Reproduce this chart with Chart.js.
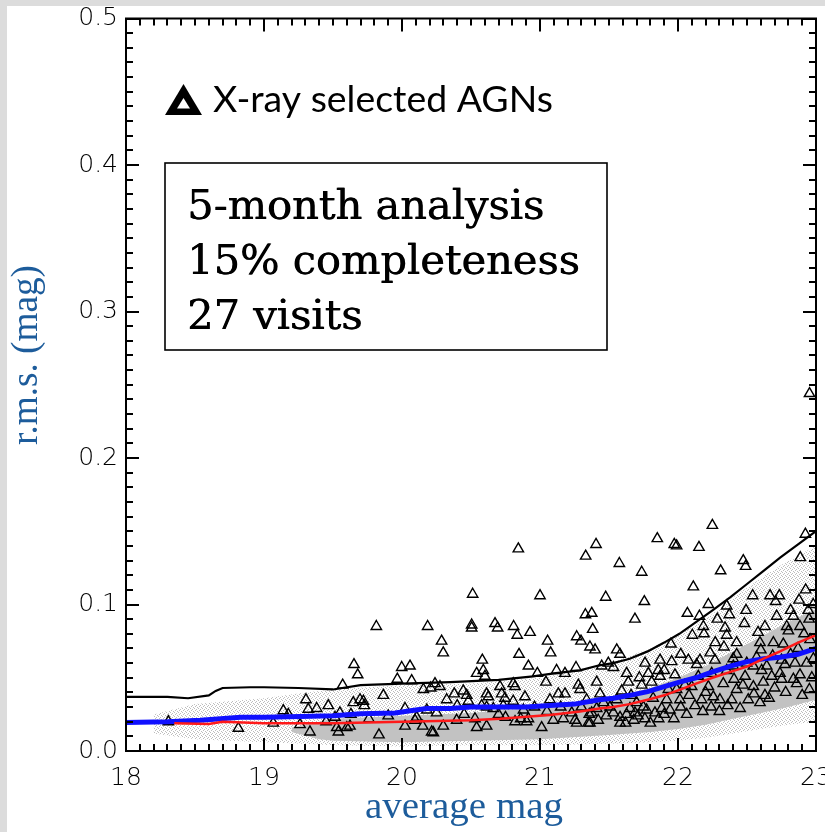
<!DOCTYPE html>
<html><head><meta charset="utf-8">
<script src="https://cdn.jsdelivr.net/npm/chart.js@4/dist/chart.umd.min.js"></script>
<style>
html,body{margin:0;padding:0;background:#dcdcdc;overflow:hidden;width:825px;height:832px;}
#wrap{position:absolute;left:7px;top:6px;width:843px;height:826px;background:#fff;}
canvas{display:block;}
</style></head><body><div id="wrap"><canvas id="c" width="843" height="826"></canvas></div>
<script>
// ---- tick labels ----
const xTickLabels = ['18','19','20','21','22','23'];
const yTickLabels = ['0.0','0.1','0.2','0.3','0.4','0.5'];
const xMin = 18, xMax = 23, yMin = 0, yMax = 0.5;
const xMinorStep = 0.1, yMinorStep = 0.01;

// ---- black (upper envelope) line ----
const blackX = [18.0,18.3,18.45,18.6,18.65,18.7,18.9,19.0,19.25,19.5,19.7,20.0,20.35,20.7,20.95,21.1,21.29,21.43,21.53,21.65,21.78,21.9,22.01,22.13,22.25,22.38,22.5,22.62,22.74,22.87,23.0];
const blackY = [0.037,0.037,0.036,0.038,0.041,0.043,0.0435,0.0435,0.043,0.042,0.045,0.046,0.047,0.0485,0.051,0.053,0.055,0.0585,0.060,0.063,0.068,0.074,0.080,0.088,0.096,0.105,0.114,0.123,0.132,0.141,0.150];

// ---- blue line ----
const blueX = [18.0,18.3,18.54,18.83,19.0,19.26,19.5,19.7,19.95,20.1,20.18,20.35,20.5,20.71,20.9,21.07,21.25,21.43,21.53,21.65,21.78,21.9,22.01,22.13,22.25,22.38,22.5,22.62,22.74,22.87,23.0];
const blueY = [0.0195,0.020,0.021,0.023,0.023,0.0235,0.024,0.0255,0.026,0.028,0.029,0.029,0.030,0.030,0.030,0.031,0.032,0.035,0.036,0.038,0.0405,0.044,0.047,0.050,0.054,0.058,0.061,0.063,0.064,0.066,0.070];

// ---- red line ----
const redX = [18.35,18.6,18.7,19.0,19.5,20.0,20.5,20.71,21.07,21.29,21.43,21.53,21.65,21.78,21.9,22.01,22.13,22.25,22.38,22.5,22.62,22.74,22.87,23.0];
const redY = [0.019,0.0185,0.020,0.019,0.019,0.020,0.021,0.022,0.0245,0.027,0.029,0.030,0.032,0.035,0.038,0.0417,0.046,0.050,0.054,0.0576,0.063,0.068,0.074,0.079];

// ---- grey point cloud: sparse envelope and dense core ----
const cloudX   = [18.2,18.5,19.0,19.3,19.5,20.0,20.5,21.0,21.5,21.8,22.0,22.2,22.4,22.6,22.8,23.0];
const cloudLo  = [0.012,0.008,0.006,0.005,0.004,0.003,0.004,0.004,0.005,0.006,0.007,0.009,0.012,0.015,0.018,0.020];
const cloudHi  = [0.025,0.032,0.036,0.040,0.042,0.045,0.046,0.050,0.060,0.070,0.080,0.090,0.105,0.118,0.130,0.140];
const coreX    = [19.2,19.4,19.5,20.0,20.5,21.0,21.5,21.8,22.0,22.2,22.4,22.6,22.8,23.0];
const coreLo   = [0.013,0.008,0.007,0.006,0.007,0.008,0.011,0.013,0.015,0.018,0.022,0.026,0.030,0.035];
const coreHi   = [0.016,0.020,0.022,0.024,0.026,0.030,0.036,0.043,0.050,0.058,0.068,0.078,0.088,0.097];

// ---- X-ray selected AGNs (triangles) ----
const agnX = [20.843,21.406,21.331,20.512,21.0,19.814,20.186,20.505,20.505,20.674,20.693,20.809,20.835,20.928,21.329,21.375,21.382,21.266,21.297,21.362,21.399,20.287,20.299,21.055,21.077,20.848,20.916,20.582,20.589,20.541,20.601,19.652,19.679,19.998,20.058,19.966,20.07,19.57,20.981,21.12,21.181,21.261,21.043,20.806,20.819,20.71,20.155,20.208,20.239,20.275,20.379,20.444,20.469,19.865,20.613,20.626,20.722,20.746,20.891,21.133,21.181,21.278,21.29,21.411,19.304,19.466,19.647,19.696,19.72,19.727,20.022,20.094,20.15,20.215,20.227,20.022,19.833,19.527,19.539,19.623,19.333,20.299,20.396,20.541,20.613,20.529,20.819,20.903,20.916,21.012,21.096,21.169,21.254,21.266,21.362,21.357,20.577,20.613,20.662,20.734,20.806,20.481,20.251,20.106,21.411,20.324,21.072,
22.249,21.85,21.973,21.99,22.152,21.575,21.737,22.473,22.49,22.309,22.886,22.923,22.111,21.476,21.756,21.688,22.068,22.155,22.22,22.285,22.353,22.372,22.493,22.541,22.667,22.734,22.707,22.877,22.925,22.816,22.836,22.944,21.556,21.58,21.949,22.104,22.184,22.188,22.341,22.353,22.333,22.425,22.481,22.63,22.691,22.715,22.763,22.788,22.884,22.913,22.957,22.981,22.952,22.884,22.932,22.848,22.816,22.775,22.751,22.686,22.643,22.679,22.594,22.57,22.546,22.606,22.618,22.63,22.546,22.486,22.498,22.425,22.401,22.406,22.425,22.353,22.328,22.304,22.256,22.22,22.244,22.268,22.233,22.159,22.135,22.075,22.147,22.099,22.171,22.123,22.063,22.014,21.99,21.978,21.954,21.87,21.857,21.87,21.809,21.761,21.785,21.737,21.918,21.942,21.882,21.833,21.773,21.749,21.688,21.652,21.628,21.58,21.532,21.507,21.556,21.592,21.64,21.628,21.495,21.447,21.532,21.435,21.338,21.374,21.422,21.35,21.58,22.389,22.509,22.594,22.739,22.836,
18.307,18.814,19.067,19.14,19.261,19.321,19.382,19.514,19.176,19.6,22.953,20.75,20.86,19.55,19.63,
21.62,21.68,21.71,21.76,21.8,21.86,21.9,21.97,22.02,22.08,22.18,22.24,22.3,22.36,22.45,22.55,22.7,22.78,22.86,22.9,22.97,22.66,22.47,22.2,22.05,21.93,21.82,21.7,21.66,21.72,21.48,21.46,21.3,21.23,21.15,21.05,20.96,20.88,20.7,20.45,20.4,20.18,19.9,19.76,19.45,22.6,22.75,22.87,22.95,22.98,22.8,22.58,22.4,22.27,22.02,21.9];
const agnY = [0.138,0.141,0.133,0.107,0.106,0.085,0.085,0.086,0.084,0.087,0.084,0.085,0.079,0.081,0.093,0.094,0.083,0.078,0.075,0.071,0.069,0.075,0.067,0.075,0.067,0.066,0.058,0.062,0.055,0.053,0.051,0.059,0.052,0.057,0.058,0.049,0.048,0.045,0.053,0.055,0.053,0.057,0.047,0.046,0.044,0.044,0.042,0.043,0.046,0.044,0.039,0.041,0.038,0.038,0.039,0.037,0.039,0.036,0.037,0.039,0.039,0.045,0.042,0.047,0.035,0.031,0.033,0.035,0.034,0.031,0.029,0.021,0.017,0.013,0.0125,0.017,0.011,0.016,0.013,0.017,0.013,0.017,0.021,0.016,0.017,0.022,0.020,0.020,0.022,0.016,0.021,0.022,0.021,0.019,0.019,0.025,0.031,0.030,0.029,0.031,0.034,0.034,0.026,0.023,0.029,0.035,0.035,
0.154,0.145,0.141,0.140,0.139,0.128,0.122,0.130,0.126,0.123,0.132,0.148,0.112,0.105,0.102,0.090,0.094,0.092,0.100,0.090,0.099,0.093,0.096,0.106,0.106,0.106,0.102,0.103,0.110,0.096,0.092,0.096,0.069,0.066,0.073,0.079,0.085,0.080,0.084,0.079,0.071,0.074,0.087,0.085,0.074,0.092,0.073,0.085,0.085,0.080,0.076,0.063,0.042,0.052,0.060,0.060,0.066,0.059,0.049,0.065,0.058,0.051,0.074,0.064,0.058,0.055,0.047,0.038,0.044,0.051,0.060,0.066,0.058,0.049,0.042,0.055,0.046,0.035,0.037,0.044,0.053,0.062,0.067,0.062,0.059,0.062,0.051,0.044,0.035,0.031,0.025,0.035,0.042,0.052,0.061,0.062,0.055,0.051,0.047,0.060,0.053,0.045,0.035,0.028,0.029,0.026,0.028,0.030,0.026,0.029,0.025,0.023,0.026,0.030,0.035,0.041,0.047,0.053,0.060,0.058,0.057,0.039,0.035,0.026,0.021,0.019,0.019,0.035,0.035,0.033,0.053,0.049,
0.020,0.0155,0.019,0.0275,0.018,0.0285,0.029,0.023,0.025,0.016,0.244,0.023,0.022,0.026,0.025,
0.019,0.021,0.024,0.022,0.019,0.022,0.025,0.022,0.030,0.038,0.027,0.030,0.027,0.031,0.029,0.039,0.043,0.040,0.046,0.038,0.050,0.036,0.045,0.040,0.045,0.042,0.036,0.033,0.038,0.050,0.024,0.033,0.030,0.026,0.030,0.027,0.030,0.028,0.025,0.025,0.031,0.028,0.024,0.022,0.020,0.069,0.062,0.070,0.090,0.100,0.082,0.081,0.063,0.074,0.066,0.055];

// ---- annotation texts ----
const legendText = 'X-ray selected AGNs';
const boxLines = ['5-month analysis','15% completeness','27 visits'];
const xTitle = 'average mag';
const yTitle = 'r.m.s. (mag)';

const pts = (xs, ys) => xs.map((v, i) => ({x: v, y: ys[i]}));

const measureCtx = document.createElement('canvas').getContext('2d');
function fitSize(text, weight, family, width) {
  measureCtx.font = weight + ' 100px ' + family;
  return 100 * width / measureCtx.measureText(text).width;
}

// speckle texture for the sparse part of the grey cloud
function speckle() {
  const c = document.createElement('canvas'); c.width = 4; c.height = 4;
  const g = c.getContext('2d');
  g.fillStyle = '#ffffff'; g.fillRect(0, 0, 4, 4);
  g.fillStyle = '#bdbdbd';
  g.fillRect(0, 0, 1, 1); g.fillRect(2, 1, 1, 1); g.fillRect(1, 3, 1, 1); g.fillRect(3, 2, 1, 1);
  return measureCtx.createPattern(c, 'repeat');
}

// inward ticks on all four sides + frame
const axisBox = {
  id: 'axisBox',
  afterDraw(chart) {
    const ctx = chart.ctx;
    const a = chart.chartArea;
    const sx = chart.scales.x, sy = chart.scales.y;
    ctx.save();
    ctx.fillStyle = '#000000';
    const nx = Math.round((xMax - xMin) / xMinorStep);
    for (let i = 0; i <= nx; i++) {
      const px = Math.round(sx.getPixelForValue(xMin + i * xMinorStep));
      const L = (i % 10 === 0) ? 13 : 7;
      ctx.fillRect(px - 1, a.bottom - L, 2, L);
      ctx.fillRect(px - 1, a.top, 2, L);
    }
    const ny = Math.round((yMax - yMin) / yMinorStep);
    for (let i = 0; i <= ny; i++) {
      const py = Math.round(sy.getPixelForValue(yMin + i * yMinorStep));
      const L = (i % 10 === 0) ? 13 : 7;
      ctx.fillRect(a.left, py - 1, L, 2);
      ctx.fillRect(a.right - L, py - 1, L, 2);
    }
    ctx.strokeStyle = '#000000';
    ctx.lineWidth = 2;
    ctx.strokeRect(a.left, a.top, a.right - a.left, a.bottom - a.top);
    ctx.restore();
  }
};

const TITLE_BLUE = '#1d5c9b';
const annotations = {
  id: 'annotations',
  afterDraw(chart) {
    const ctx = chart.ctx;
    ctx.save();
    // legend marker (bold triangle)
    ctx.fillStyle = '#000';
    ctx.beginPath(); ctx.moveTo(158, 109); ctx.lineTo(195, 109); ctx.lineTo(176.5, 78); ctx.closePath(); ctx.fill();
    ctx.fillStyle = '#fff';
    ctx.beginPath(); ctx.moveTo(170, 102.5); ctx.lineTo(183, 102.5); ctx.lineTo(176.5, 92); ctx.closePath(); ctx.fill();
    // legend text
    ctx.fillStyle = '#000';
    const ls = fitSize(legendText, '400', 'Lato', 340);
    ctx.font = '400 ' + ls + 'px Lato';
    ctx.textAlign = 'left'; ctx.textBaseline = 'alphabetic';
    ctx.fillText(legendText, 206, 106);

    // text box
    ctx.strokeStyle = '#000';
    ctx.lineWidth = 1.6;
    ctx.strokeRect(158, 157, 442, 187);
    const bs = fitSize(boxLines[1], '400', '"DejaVu Serif"', 393);
    ctx.font = '400 ' + bs + 'px "DejaVu Serif"';
    const baselines = [213, 268, 323];
    boxLines.forEach((t, i) => {
      ctx.fillText(t, 180, baselines[i]);
      ctx.fillText(t, 180.6, baselines[i]);
    });

    // axis titles
    ctx.fillStyle = TITLE_BLUE;
    const tx = fitSize(xTitle, '400', '"Liberation Serif"', 198);
    ctx.font = '400 ' + tx + 'px "Liberation Serif"';
    ctx.textAlign = 'center';
    ctx.fillText(xTitle, 457, 812);
    const ty = fitSize(yTitle, '400', '"Liberation Serif"', 180);
    ctx.font = '400 ' + ty + 'px "Liberation Serif"';
    ctx.translate(30, 349);
    ctx.rotate(-Math.PI / 2);
    ctx.fillText(yTitle, 0, 0);
    ctx.restore();
  }
};

const xTickFont = {family: "'DejaVu Sans'", size: 25, weight: '200', lineHeight: 1.0};
const yTickFont = {family: "'DejaVu Sans'", size: 25, weight: '200', lineHeight: 0.3};

new Chart(document.getElementById('c'), {
  type: 'line',
  data: {
    datasets: [
      {label: 'red', data: pts(redX, redY), borderColor: '#ff1a1a', borderWidth: 2.5, pointRadius: 0, tension: 0, fill: false, order: 0},
      {label: 'blue', data: pts(blueX, blueY), borderColor: '#1010ff', borderWidth: 5, pointRadius: 0, tension: 0, fill: false, order: 1},
      {label: 'black', data: pts(blackX, blackY), borderColor: '#000', borderWidth: 2.2, pointRadius: 0, tension: 0, fill: false, order: 2},
      {label: 'AGN', data: pts(agnX, agnY), showLine: false, pointStyle: 'triangle', pointRadius: 6, pointBorderWidth: 1.4, pointBorderColor: '#000', pointBackgroundColor: 'rgba(0,0,0,0)', order: 3},
      {label: 'coreHi', data: pts(coreX, coreHi), borderWidth: 0, borderColor: 'rgba(0,0,0,0)', pointRadius: 0, fill: 5, backgroundColor: '#c2c2c2', order: 4},
      {label: 'coreLo', data: pts(coreX, coreLo), borderWidth: 0, borderColor: 'rgba(0,0,0,0)', pointRadius: 0, fill: false, order: 5},
      {label: 'cloudHi', data: pts(cloudX, cloudHi), borderWidth: 0, borderColor: 'rgba(0,0,0,0)', pointRadius: 0, fill: 7, backgroundColor: speckle(), order: 6},
      {label: 'cloudLo', data: pts(cloudX, cloudLo), borderWidth: 0, borderColor: 'rgba(0,0,0,0)', pointRadius: 0, fill: false, order: 7}
    ]
  },
  options: {
    responsive: false,
    animation: false,
    devicePixelRatio: 1,
    layout: {padding: {top: 12.5, right: 34, bottom: 0, left: 0}},
    plugins: {legend: {display: false}, tooltip: {enabled: false}},
    scales: {
      x: {
        type: 'linear', min: xMin, max: xMax,
        grid: {display: false, drawTicks: false}, border: {display: false},
        ticks: {stepSize: 1, color: '#000', font: xTickFont, padding: 15,
          callback: (v) => xTickLabels[Math.round(v - xMin)] ?? ''},
        afterFit: (s) => { s.height = 81; }
      },
      y: {
        type: 'linear', min: yMin, max: yMax,
        grid: {display: false, drawTicks: false}, border: {display: false},
        ticks: {stepSize: 0.1, color: '#000', font: yTickFont, padding: 8,
          callback: (v) => yTickLabels[Math.round(v * 10)] ?? ''},
        afterFit: (s) => { s.width = 119; }
      }
    }
  },
  plugins: [axisBox, annotations]
});
</script>
</body></html>
